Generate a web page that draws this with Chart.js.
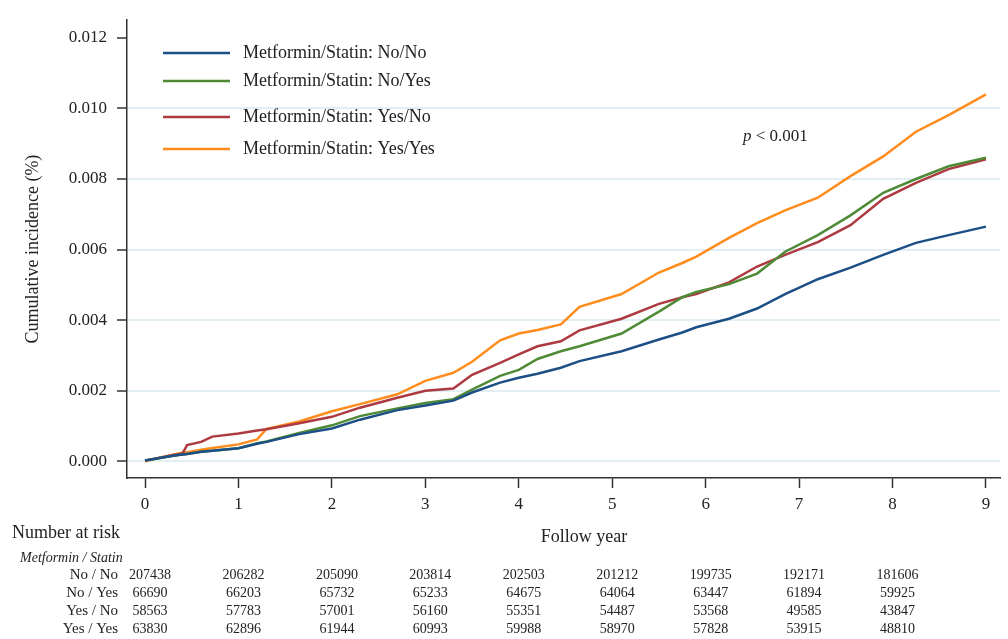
<!DOCTYPE html>
<html>
<head>
<meta charset="utf-8">
<script src="https://cdn.jsdelivr.net/npm/chart.js@4"></script>
<style>
  body { margin: 0; background: #fff; }
  #wrap { width: 1008px; height: 639px; position: relative; }
</style>
</head>
<body>
<div id="wrap"><canvas id="myChart"></canvas></div>
<script>
const years = [0, 0.3, 0.4, 0.45, 0.6, 0.72, 1.0, 1.2, 1.3, 1.65, 2.0, 2.3, 2.7, 3.0, 3.3, 3.5, 3.8, 4.0, 4.2, 4.45, 4.65, 5.1, 5.5, 5.75, 5.9, 6.25, 6.55, 6.85, 7.2, 7.55, 7.9, 8.25, 8.6, 9.0];

// cumulative incidence per group
const noNo   = [0.00002, 0.00016, 0.00019, 0.00021, 0.00027, 0.0003, 0.00037, 0.0005, 0.00055, 0.00077, 0.00093, 0.00118, 0.00145, 0.00158, 0.00172, 0.00195, 0.00223, 0.00237, 0.00248, 0.00265, 0.00284, 0.00312, 0.00345, 0.00365, 0.0038, 0.00404, 0.00433, 0.00474, 0.00516, 0.00549, 0.00585, 0.00619, 0.00641, 0.00665];
const noYes  = [0.00002, 0.00016, 0.00019, 0.00021, 0.00027, 0.0003, 0.00037, 0.00051, 0.00056, 0.0008, 0.00102, 0.00128, 0.0015, 0.00165, 0.00176, 0.00203, 0.00242, 0.00259, 0.0029, 0.00312, 0.00326, 0.00362, 0.00424, 0.00465, 0.0048, 0.00502, 0.00532, 0.00594, 0.00641, 0.00697, 0.00761, 0.008, 0.00836, 0.0086];
const yesNo  = [0.00002, 0.00018, 0.00022, 0.00046, 0.00055, 0.0007, 0.00079, 0.00087, 0.00091, 0.00108, 0.00126, 0.00152, 0.0018, 0.002, 0.00206, 0.00245, 0.00279, 0.00303, 0.00326, 0.0034, 0.00371, 0.00404, 0.00446, 0.00465, 0.00474, 0.00507, 0.00552, 0.00585, 0.00621, 0.00669, 0.00744, 0.00789, 0.00828, 0.00856];
const yesYes = [0, 0.00019, 0.00024, 0.00026, 0.00033, 0.00038, 0.00048, 0.00062, 0.00092, 0.00113, 0.00142, 0.00162, 0.0019, 0.00228, 0.00251, 0.00282, 0.00343, 0.00362, 0.00372, 0.00388, 0.00438, 0.00474, 0.00535, 0.00562, 0.0058, 0.00633, 0.00675, 0.00711, 0.00747, 0.00808, 0.00864, 0.00934, 0.00981, 0.0104];

const seriesLabels = ['Metformin/Statin: No/No', 'Metformin/Statin: No/Yes', 'Metformin/Statin: Yes/No', 'Metformin/Statin: Yes/Yes'];
const seriesColors = ['#1c4f85', '#4f8a36', '#ad3a41', '#ff8c1c'];

const xTicks = [0, 1, 2, 3, 4, 5, 6, 7, 8, 9];
const yTicks = [0, 0.002, 0.004, 0.006, 0.008, 0.010, 0.012];

// number at risk table
const riskGroups = ['No / No', 'No / Yes', 'Yes / No', 'Yes / Yes'];
const riskNoNo   = [207438, 206282, 205090, 203814, 202503, 201212, 199735, 192171, 181606];
const riskNoYes  = [66690, 66203, 65732, 65233, 64675, 64064, 63447, 61894, 59925];
const riskYesNo  = [58563, 57783, 57001, 56160, 55351, 54487, 53568, 49585, 43847];
const riskYesYes = [63830, 62896, 61944, 60993, 59988, 58970, 57828, 53915, 48810];

const serif = "'Liberation Serif', 'Times New Roman', serif";
const textColor = '#222';
const axisColor = '#333';

function toPoints(vals) {
    return years.map((t, i) => ({ x: t, y: vals[i] }));
}

const allSeries = [noNo, noYes, yesNo, yesYes];
const riskRows = [riskNoNo, riskNoYes, riskYesNo, riskYesYes];

// legend, p value, x title and risk table
const extras = {
    id: 'extras',
    afterDraw(chart) {
        const ctx = chart.ctx;
        const xs = chart.scales.x;
        ctx.save();
        ctx.fillStyle = textColor;
        ctx.textBaseline = 'middle';

        // legend
        const legendY = [53, 81, 117, 149];
        ctx.font = '18px ' + serif;
        seriesLabels.forEach((lab, i) => {
            ctx.strokeStyle = seriesColors[i];
            ctx.lineWidth = 2.5;
            ctx.beginPath();
            ctx.moveTo(163, legendY[i]);
            ctx.lineTo(230, legendY[i]);
            ctx.stroke();
            ctx.textAlign = 'left';
            ctx.fillText(lab, 243, legendY[i]);
        });

        // p value
        ctx.font = 'italic 17px ' + serif;
        ctx.textAlign = 'left';
        ctx.fillText('p', 743, 137);
        const pw = ctx.measureText('p').width;
        ctx.font = '17px ' + serif;
        ctx.fillText(' < 0.001', 743 + pw, 137);

        // x axis title
        ctx.font = '18px ' + serif;
        ctx.textAlign = 'center';
        ctx.fillText('Follow year', 584, 537);

        // number at risk
        ctx.textAlign = 'left';
        ctx.fillText('Number at risk', 12, 533);
        ctx.font = 'italic 14px ' + serif;
        ctx.fillText('Metformin / Statin', 20, 558);

        const rowY = [575, 593, 611, 629];
        riskGroups.forEach((g, r) => {
            ctx.font = '15px ' + serif;
            ctx.textAlign = 'right';
            ctx.fillText(g, 118, rowY[r]);
            ctx.font = '14px ' + serif;
            ctx.textAlign = 'center';
            riskRows[r].forEach((n, c) => {
                ctx.fillText(String(n), xs.getPixelForValue(xTicks[c]) + 5, rowY[r]);
            });
        });
        ctx.restore();
    }
};

const ctx = document.getElementById('myChart').getContext('2d');
const myChart = new Chart(ctx, {
    type: 'line',
    data: {
        datasets: allSeries.map((vals, i) => ({
            label: seriesLabels[i],
            data: toPoints(vals),
            borderColor: seriesColors[i],
            backgroundColor: seriesColors[i],
            borderWidth: 2.5,
            pointRadius: 0,
            fill: false,
            tension: 0
        }))
    },
    options: {
        responsive: true,
        maintainAspectRatio: false,
        animation: false,
        layout: { padding: { top: 12, right: 8, left: 0, bottom: 0 } },
        plugins: {
            legend: { display: false },
            tooltip: { enabled: false }
        },
        scales: {
            x: {
                type: 'linear',
                min: -0.193,
                max: 9.15,
                afterBuildTicks: s => { s.ticks = xTicks.map(v => ({ value: v })); },
                afterFit: s => { s.height = 161; },
                ticks: {
                    color: textColor,
                    font: { family: serif, size: 17 },
                    padding: 6,
                    callback: v => String(v)
                },
                grid: {
                    drawOnChartArea: false,
                    drawTicks: true,
                    tickLength: 10,
                    tickColor: axisColor,
                    tickWidth: 1.5
                },
                border: { display: true, color: axisColor, width: 1.5 }
            },
            y: {
                min: -0.000473,
                max: 0.0125,
                afterBuildTicks: s => { s.ticks = yTicks.map(v => ({ value: v })); },
                afterFit: s => { s.width = 127; },
                ticks: {
                    color: textColor,
                    font: { family: serif, size: 17 },
                    padding: 10,
                    callback: v => Number(v).toFixed(3)
                },
                grid: {
                    color: c => (c.tick && c.tick.value >= 0.012) ? 'rgba(0,0,0,0)' : '#e2eef3',
                    lineWidth: 2,
                    drawTicks: true,
                    tickLength: 10,
                    tickColor: axisColor,
                    tickWidth: 1.5
                },
                border: { display: true, color: axisColor, width: 1.5 },
                title: {
                    display: true,
                    text: 'Cumulative incidence (%)',
                    color: textColor,
                    font: { family: serif, size: 18 },
                    padding: { top: 22, bottom: 0 }
                }
            }
        }
    },
    plugins: [extras]
});
</script>
</body>
</html>
